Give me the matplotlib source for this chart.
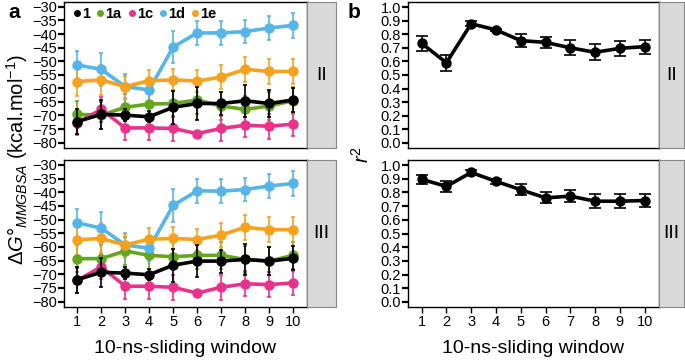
import numpy as np
import matplotlib
matplotlib.use("Agg")
from matplotlib import pyplot as plt

plt.rcParams["font.family"] = ["Liberation Sans", "DejaVu Sans"]
plt.rcParams["mathtext.fontset"] = "custom"
plt.rcParams["mathtext.rm"] = "Liberation Sans"
plt.rcParams["mathtext.it"] = "Liberation Sans:italic"

# x positions (10-ns sliding windows)
windows = [1, 2, 3, 4, 5, 6, 7, 8, 9, 10]

# panel a, condition II : binding free energies (kcal/mol) and error bars
dg_II_1 = [-72.3, -69.6, -69.9, -70.5, -67.0, -65.6, -65.6, -64.6, -65.6, -64.3]
dg_II_1a = [-69.6, -69.9, -67.0, -65.8, -65.6, -64.3, -66.5, -67.8, -66.5, -64.6]
dg_II_1c = [-72.7, -67.8, -74.6, -74.6, -74.8, -76.7, -74.8, -73.6, -74.0, -73.2]
dg_II_1d = [-51.4, -53.0, -59.4, -60.6, -44.8, -39.6, -39.6, -39.1, -37.8, -36.8]
dg_II_1e = [-57.5, -56.9, -59.4, -57.2, -56.9, -57.3, -55.9, -53.0, -53.8, -53.8]

# panel a, condition III
dg_III_1 = [-72.0, -69.3, -69.6, -70.2, -66.7, -65.2, -65.2, -64.6, -65.2, -64.2]
dg_III_1a = [-64.3, -64.3, -61.5, -63.1, -63.6, -63.1, -63.1, -64.6, -65.2, -63.1]
dg_III_1c = [-72.3, -67.3, -74.4, -74.4, -74.8, -76.9, -74.8, -73.5, -73.8, -73.2]
dg_III_1d = [-51.2, -53.1, -59.3, -60.5, -44.8, -39.5, -39.6, -39.0, -37.7, -36.8]
dg_III_1e = [-57.4, -56.9, -59.3, -57.2, -56.9, -57.3, -55.7, -52.8, -53.7, -53.7]

err_1 = [4.7, 5.4, 2.2, 2.0, 6.0, 6.0, 4.2, 5.8, 5.0, 4.4]
err_1a = [5.0, 5.0, 5.0, 5.0, 5.0, 5.0, 5.0, 5.0, 5.0, 5.0]
err_1c = [4.5, 4.5, 4.5, 4.5, 4.5, 1.0, 4.5, 4.5, 4.5, 4.5]
err_1d = [5.2, 6.0, 4.5, 4.5, 6.0, 4.5, 4.3, 4.3, 4.3, 4.5]
err_1e = [5.5, 5.5, 4.0, 4.0, 4.0, 4.0, 4.5, 4.5, 4.5, 4.5]

# panel b : r^2
r2_II = [0.733, 0.590, 0.877, 0.832, 0.753, 0.740, 0.700, 0.667, 0.696, 0.709]
r2_II_err = [0.055, 0.058, 0.020, 0.010, 0.047, 0.043, 0.054, 0.058, 0.053, 0.052]
r2_III = [0.896, 0.844, 0.946, 0.881, 0.820, 0.760, 0.773, 0.736, 0.736, 0.741]
r2_III_err = [0.033, 0.040, 0.018, 0.018, 0.040, 0.040, 0.043, 0.050, 0.050, 0.050]

labels = ["1", "1a", "1c", "1d", "1e"]
colors = ["#000000", "#66A61E", "#E7338C", "#56B4E9", "#F7A21E"]
strips = ["II", "III"]

W, H = 685.0, 360.0
fig = plt.figure(figsize=(6.85, 3.6), dpi=100)

def box(x0, y0, x1, y1):
    # pixel box (top-left origin) -> figure coords
    return [x0 / W, 1 - y1 / H, (x1 - x0) / W, (y1 - y0) / H]

def style(ax, bottom):
    for s in ax.spines.values():
        s.set_linewidth(1.0)
    ax.tick_params(axis="y", direction="out", length=4, width=1.6, labelsize=10.5, pad=1)
    ax.tick_params(axis="x", direction="out", length=4, width=1.0, labelsize=10.5, pad=2)
    ax.set_xlim(0.45, 10.58)
    ax.set_xticks(windows)
    if not bottom:
        ax.tick_params(axis="x", bottom=False, labelbottom=False)

def strip(x0, y0, x1, y1, text):
    sa = fig.add_axes(box(x0, y0, x1, y1))
    sa.set_facecolor("#d9d9d9")
    sa.set_xticks([])
    sa.set_yticks([])
    for s in sa.spines.values():
        s.set_color("#888888")
        s.set_linewidth(0.8)
    sa.text(0.5, 0.5, text, ha="center", va="center", fontsize=14, transform=sa.transAxes)

rows = [(2, 148), (160, 307)]

# panel a
a_data = [
    [dg_II_1, dg_II_1a, dg_II_1c, dg_II_1d, dg_II_1e],
    [dg_III_1, dg_III_1a, dg_III_1c, dg_III_1d, dg_III_1e],
]
errs = [err_1, err_1a, err_1c, err_1d, err_1e]
order = [1, 2, 3, 4, 0]
for r, (y0, y1) in enumerate(rows):
    ax = fig.add_axes(box(64, y0, 307, y1))
    for i in order:
        ax.errorbar(windows, a_data[r][i], yerr=errs[i], color=colors[i],
                    lw=2.6, marker="o", ms=6.5, elinewidth=1.2, capsize=1.5,
                    capthick=1.2, label=labels[i], zorder=3 if i else 4)
    ax.set_ylim(-82, -28.2)
    ax.set_yticks(np.arange(-80, -29, 5))
    style(ax, r == 1)
    if r == 0:
        hs = [plt.Line2D([], [], color=colors[k], marker="o", ls="", ms=4) for k in range(5)]
        ax.legend(hs, labels, ncol=5, loc="upper left", frameon=False,
                  bbox_to_anchor=(-0.01, 1.045), handletextpad=0.1,
                  columnspacing=0.45, handlelength=0.5, borderpad=0.3,
                  prop={"weight": "bold", "size": 10.5})
    else:
        ax.set_xlabel("10-ns-sliding window", fontsize=14, labelpad=8)
    strip(307, y0, 336, y1, strips[r])

fig.text(17 / W, 1 - 160 / H, r"$\Delta G°_{MMGBSA}$ (kcal.mol$^{-1}$)",
         rotation=90, ha="center", va="center", fontsize=14.5)
fig.text(8 / W, 1 - 13 / H, "a", fontsize=15, fontweight="bold", va="center")

# panel b
b_data = [(r2_II, r2_II_err), (r2_III, r2_III_err)]
for r, (y0, y1) in enumerate(rows):
    ax = fig.add_axes(box(408, y0, 659, y1))
    vals, e = b_data[r]
    ax.errorbar(windows, vals, yerr=e, color="black", lw=2.6, marker="o", ms=6.5,
                elinewidth=1.2, capsize=4, capthick=1.2)
    ax.set_ylim(-0.037, 1.037)
    ticks = np.round(np.arange(0, 1.01, 0.1), 1)
    ax.set_yticks(ticks)
    ax.set_yticklabels(["%.1f" % v for v in ticks])
    style(ax, r == 1)
    if r == 1:
        ax.set_xlabel("10-ns-sliding window", fontsize=14, labelpad=8)
    strip(659, y0, 684, y1, strips[r])

fig.text(362 / W, 1 - 155 / H, r"$r^2$", rotation=90, ha="center", va="center", fontsize=14.5)
fig.text(348 / W, 1 - 13 / H, "b", fontsize=15, fontweight="bold", va="center")

fig.savefig("out.png", dpi=100)
